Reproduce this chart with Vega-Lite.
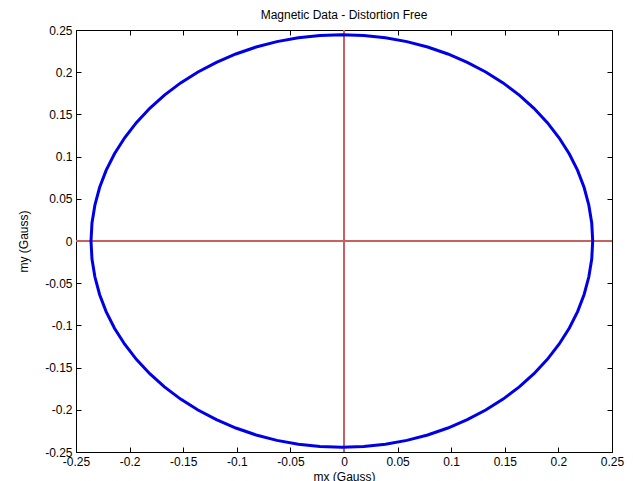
{
  "$schema": "https://vega.github.io/schema/vega-lite/v6.json",
  "width": 536,
  "height": 422,
  "autosize": "none",
  "padding": {"left": 76, "top": 30, "right": 21, "bottom": 29},
  "background": "white",
  "title": {"text": "Magnetic Data - Distortion Free", "fontSize": 12, "fontWeight": "normal", "font": "Liberation Sans", "color": "#000", "offset": 2},
  "config": {
    "view": {"stroke": "#000", "strokeWidth": 1},
    "axis": {"grid": false, "domain": false, "tickColor": "#000", "tickSize": -5, "labelFont": "Liberation Sans", "labelFontSize": 12, "labelColor": "#000", "titleFont": "Liberation Sans", "titleFontSize": 12, "titleFontWeight": "normal", "titleColor": "#000", "labelPadding": 9}
  },
  "data": {"values": [
    {"i": 0, "mx": 0.232, "my": 0.0},
    {"i": 1, "mx": 0.2311, "my": 0.0213},
    {"i": 2, "mx": 0.2284, "my": 0.0424},
    {"i": 3, "mx": 0.224, "my": 0.0633},
    {"i": 4, "mx": 0.2179, "my": 0.0836},
    {"i": 5, "mx": 0.2101, "my": 0.1033},
    {"i": 6, "mx": 0.2006, "my": 0.1223},
    {"i": 7, "mx": 0.1897, "my": 0.1402},
    {"i": 8, "mx": 0.1772, "my": 0.1572},
    {"i": 9, "mx": 0.1635, "my": 0.1729},
    {"i": 10, "mx": 0.1484, "my": 0.1873},
    {"i": 11, "mx": 0.1322, "my": 0.2003},
    {"i": 12, "mx": 0.115, "my": 0.2117},
    {"i": 13, "mx": 0.0969, "my": 0.2216},
    {"i": 14, "mx": 0.078, "my": 0.2298},
    {"i": 15, "mx": 0.0586, "my": 0.2362},
    {"i": 16, "mx": 0.0386, "my": 0.2408},
    {"i": 17, "mx": 0.0184, "my": 0.2436},
    {"i": 18, "mx": -0.002, "my": 0.2445},
    {"i": 19, "mx": -0.0224, "my": 0.2436},
    {"i": 20, "mx": -0.0426, "my": 0.2408},
    {"i": 21, "mx": -0.0626, "my": 0.2362},
    {"i": 22, "mx": -0.082, "my": 0.2298},
    {"i": 23, "mx": -0.1009, "my": 0.2216},
    {"i": 24, "mx": -0.119, "my": 0.2117},
    {"i": 25, "mx": -0.1362, "my": 0.2003},
    {"i": 26, "mx": -0.1524, "my": 0.1873},
    {"i": 27, "mx": -0.1675, "my": 0.1729},
    {"i": 28, "mx": -0.1812, "my": 0.1572},
    {"i": 29, "mx": -0.1937, "my": 0.1402},
    {"i": 30, "mx": -0.2046, "my": 0.1223},
    {"i": 31, "mx": -0.2141, "my": 0.1033},
    {"i": 32, "mx": -0.2219, "my": 0.0836},
    {"i": 33, "mx": -0.228, "my": 0.0633},
    {"i": 34, "mx": -0.2324, "my": 0.0424},
    {"i": 35, "mx": -0.2351, "my": 0.0213},
    {"i": 36, "mx": -0.236, "my": 0.0},
    {"i": 37, "mx": -0.2351, "my": -0.0213},
    {"i": 38, "mx": -0.2324, "my": -0.0424},
    {"i": 39, "mx": -0.228, "my": -0.0633},
    {"i": 40, "mx": -0.2219, "my": -0.0836},
    {"i": 41, "mx": -0.2141, "my": -0.1033},
    {"i": 42, "mx": -0.2046, "my": -0.1223},
    {"i": 43, "mx": -0.1937, "my": -0.1402},
    {"i": 44, "mx": -0.1812, "my": -0.1572},
    {"i": 45, "mx": -0.1675, "my": -0.1729},
    {"i": 46, "mx": -0.1524, "my": -0.1873},
    {"i": 47, "mx": -0.1362, "my": -0.2003},
    {"i": 48, "mx": -0.119, "my": -0.2117},
    {"i": 49, "mx": -0.1009, "my": -0.2216},
    {"i": 50, "mx": -0.082, "my": -0.2298},
    {"i": 51, "mx": -0.0626, "my": -0.2362},
    {"i": 52, "mx": -0.0426, "my": -0.2408},
    {"i": 53, "mx": -0.0224, "my": -0.2436},
    {"i": 54, "mx": -0.002, "my": -0.2445},
    {"i": 55, "mx": 0.0184, "my": -0.2436},
    {"i": 56, "mx": 0.0386, "my": -0.2408},
    {"i": 57, "mx": 0.0586, "my": -0.2362},
    {"i": 58, "mx": 0.078, "my": -0.2298},
    {"i": 59, "mx": 0.0969, "my": -0.2216},
    {"i": 60, "mx": 0.115, "my": -0.2117},
    {"i": 61, "mx": 0.1322, "my": -0.2003},
    {"i": 62, "mx": 0.1484, "my": -0.1873},
    {"i": 63, "mx": 0.1635, "my": -0.1729},
    {"i": 64, "mx": 0.1772, "my": -0.1572},
    {"i": 65, "mx": 0.1897, "my": -0.1402},
    {"i": 66, "mx": 0.2006, "my": -0.1223},
    {"i": 67, "mx": 0.2101, "my": -0.1033},
    {"i": 68, "mx": 0.2179, "my": -0.0836},
    {"i": 69, "mx": 0.224, "my": -0.0633},
    {"i": 70, "mx": 0.2284, "my": -0.0424},
    {"i": 71, "mx": 0.2311, "my": -0.0213},
    {"i": 72, "mx": 0.232, "my": 0.0}
  ]},
  "layer": [
    {
      "mark": {"type": "rule", "color": "#c86060", "strokeWidth": 1},
      "encoding": {"y": {"datum": 0, "type": "quantitative", "scale": {"domain": [-0.25, 0.25], "nice": false, "zero": false}, "axis": null}}
    },
    {
      "mark": {"type": "rule", "color": "#c86060", "strokeWidth": 1},
      "encoding": {"x": {"datum": 0, "type": "quantitative", "scale": {"domain": [-0.25, 0.25], "nice": false, "zero": false}, "axis": null}}
    },
    {
      "mark": {"type": "line", "color": "#0000e6", "strokeWidth": 3, "interpolate": "linear"},
      "encoding": {
        "x": {"field": "mx", "type": "quantitative", "scale": {"domain": [-0.25, 0.25], "nice": false, "zero": false},
              "axis": {"orient": "bottom", "title": "mx (Gauss)", "titlePadding": 4, "values": [-0.25, -0.2, -0.15, -0.1, -0.05, 0, 0.05, 0.1, 0.15, 0.2, 0.25], "labelExpr": "'' + datum.value", "labelFlush": false, "labelOverlap": false}},
        "y": {"field": "my", "type": "quantitative", "scale": {"domain": [-0.25, 0.25], "nice": false, "zero": false},
              "axis": {"orient": "left", "title": "my (Gauss)", "titlePadding": 14, "values": [-0.25, -0.2, -0.15, -0.1, -0.05, 0, 0.05, 0.1, 0.15, 0.2, 0.25], "labelExpr": "'' + datum.value", "labelFlush": false, "labelOverlap": false}},
        "order": {"field": "i", "type": "quantitative"}
      }
    },
    {
      "mark": {"type": "point", "opacity": 0},
      "encoding": {
        "x": {"field": "mx", "type": "quantitative", "scale": {"domain": [-0.25, 0.25], "nice": false, "zero": false},
              "axis": {"orient": "top", "title": null, "labels": false, "values": [-0.25, -0.2, -0.15, -0.1, -0.05, 0, 0.05, 0.1, 0.15, 0.2, 0.25]}},
        "y": {"field": "my", "type": "quantitative", "scale": {"domain": [-0.25, 0.25], "nice": false, "zero": false},
              "axis": {"orient": "right", "title": null, "labels": false, "values": [-0.25, -0.2, -0.15, -0.1, -0.05, 0, 0.05, 0.1, 0.15, 0.2, 0.25]}}
      }
    }
  ],
  "resolve": {"axis": {"x": "independent", "y": "independent"}}
}
